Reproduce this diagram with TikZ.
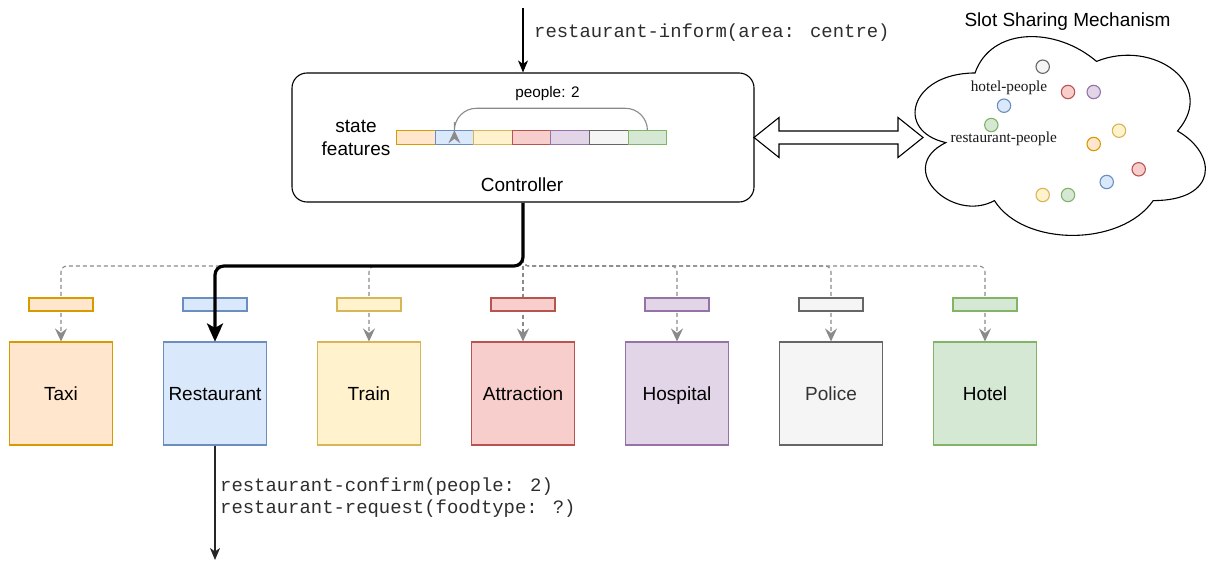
\documentclass[tikz,border=0pt]{standalone}
\usepackage{fontspec}
\setmainfont{Liberation Sans}
\newfontfamily\monof{Liberation Mono}
\newfontfamily\seriff{Liberation Serif}
\usetikzlibrary{arrows.meta}
\definecolor{orF}{HTML}{FFE6CC}\definecolor{orS}{HTML}{D79B00}
\definecolor{blF}{HTML}{DAE8FC}\definecolor{blS}{HTML}{6C8EBF}
\definecolor{yeF}{HTML}{FFF2CC}\definecolor{yeS}{HTML}{D6B656}
\definecolor{reF}{HTML}{F8CECC}\definecolor{reS}{HTML}{B85450}
\definecolor{puF}{HTML}{E1D5E7}\definecolor{puS}{HTML}{9673A6}
\definecolor{grF}{HTML}{F5F5F5}\definecolor{grS}{HTML}{666666}
\definecolor{gnF}{HTML}{D5E8D4}\definecolor{gnS}{HTML}{82B366}
\definecolor{dashgray}{HTML}{8A8A8A}
\definecolor{txtgray}{HTML}{333333}
\tikzset{
  big/.style={font=\fontsize{19}{22.6}\selectfont},
  dombox/.style={draw, rectangle, minimum width=103pt, minimum height=103pt, inner sep=0pt, line width=1.1pt, big, text height=13.7pt, text depth=0pt},
  sbar/.style={draw, rectangle, minimum width=64pt, minimum height=13pt, inner sep=0pt, line width=1.1pt},
  cell/.style={draw, rectangle, minimum width=38.6pt, minimum height=13.3pt, inner sep=0pt, line width=1.1pt},
  dot/.style={draw, circle, minimum size=13.4pt, inner sep=0pt, line width=1.1pt},
  graytip/.style={-{Stealth[length=13pt,width=12pt,inset=4.5pt,fill=dashgray]}},
  dashedge/.style={draw=dashgray, line width=1.1pt, dash pattern=on 4pt off 3pt, rounded corners=6pt, graytip},
  thinarrow/.style={draw=black, line width=1.1pt, -{Stealth[length=12pt,width=10pt,inset=3.5pt]}},
  monotext/.style={font=\monof\fontsize{18.9}{22}\selectfont, inner sep=0pt, text=black!82},
  cloudtext/.style={font=\seriff\fontsize{15.3}{18}\selectfont, inner sep=0pt, text=black!90, anchor=base},
}
\begin{document}
\begin{tikzpicture}[x=1pt,y=-1pt]
\useasboundingbox (0,0) rectangle (1207,561);

% Controller
\node[draw, line width=1.1pt, rounded corners=15pt, minimum width=462pt, minimum height=129pt, inner sep=0pt] (ctrl) at (523,137.5) {};
\node[big, align=center, inner sep=0pt] (sf) at (356,138) {state\\features};
\node[big, inner sep=0pt] (ctrllabel) at (522,185) {Controller};

% state feature cells
\node[cell, fill=orF, draw=orS] (c1) at (415.8,137.5) {};
\node[cell, fill=blF, draw=blS] (c2) at (454.4,137.5) {};
\node[cell, fill=yeF, draw=yeS] (c3) at (493.0,137.5) {};
\node[cell, fill=reF, draw=reS] (c4) at (531.6,137.5) {};
\node[cell, fill=puF, draw=puS] (c5) at (570.2,137.5) {};
\node[cell, fill=grF, draw=grS] (c6) at (608.8,137.5) {};
\node[cell, fill=gnF, draw=gnS] (c7) at (647.4,137.5) {};
\draw[draw=dashgray, line width=1.1pt, rounded corners=22pt, graytip]
  (c7.north) -- ++(0,-22) -| (c2.north);
\node[font=\fontsize{15.3}{18}\selectfont, inner sep=0pt] (pl) at (547.5,93.5) {people: 2};

% top input arrow
\coordinate (topin) at (523,8);
\draw[thinarrow] (topin) -- (ctrl.north);
\node[monotext, anchor=west] (inform) at (534,33) {restaurant-inform(area: centre)};

% domain boxes
\node[dombox, fill=orF, draw=orS] (taxi) at (61,393.5) {Taxi};
\node[dombox, fill=blF, draw=blS] (rest) at (215,393.5) {Restaurant};
\node[dombox, fill=yeF, draw=yeS] (train) at (369,393.5) {Train};
\node[dombox, fill=reF, draw=reS] (attr) at (523,393.5) {Attraction};
\node[dombox, fill=puF, draw=puS] (hosp) at (677,393.5) {Hospital};
\node[dombox, fill=grF, draw=grS, text=txtgray] (police) at (831,393.5) {Police};
\node[dombox, fill=gnF, draw=gnS] (hotel) at (985,393.5) {Hotel};

% dashed edges
\foreach \b/\x in {taxi/61, rest/215, train/369, hosp/677, police/831, hotel/985}{
  \draw[dashedge] (ctrl.south) -- (523,266) -- (\x,266) -- (\b.north);
}
\draw[dashedge] (ctrl.south) -- (attr.north);

% bars
\node[sbar, fill=orF, draw=orS] (b1) at (61,304.5) {};
\node[sbar, fill=blF, draw=blS] (b2) at (215,304.5) {};
\node[sbar, fill=yeF, draw=yeS] (b3) at (369,304.5) {};
\node[sbar, fill=reF, draw=reS] (b4) at (523,304.5) {};
\node[sbar, fill=puF, draw=puS] (b5) at (677,304.5) {};
\node[sbar, fill=grF, draw=grS] (b6) at (831,304.5) {};
\node[sbar, fill=gnF, draw=gnS] (b7) at (985,304.5) {};

% thick selected route
\draw[line width=3.2pt, rounded corners=9pt, -{Stealth[length=18pt,width=16pt,inset=4.5pt]}]
  (ctrl.south) -- (523,266) -- (215,266) -- (rest.north);

% output
\coordinate (botout) at (215,560);
\draw[thinarrow, draw=black!85] (rest.south) -- (botout);
\node[monotext, anchor=west] (o1) at (220,486.7) {restaurant-confirm(people: 2)};
\node[monotext, anchor=west] (o2) at (220,509) {restaurant-request(foodtype: ?)};

% double arrow
\draw[line width=1.1pt, fill=white, line join=miter]
  (754,137.5) -- (779,117.5) -- (779,131) -- (898,131) -- (898,117.5) -- (923,137.5)
  -- (898,157.5) -- (898,144) -- (779,144) -- (779,157.5) -- cycle;

% cloud
\draw[line width=1.1pt, fill=white]
  (975,73) .. controls (910.2,73) and (894,131) .. (945.8,142.6)
  .. controls (894,168.1) and (952.3,223.8) .. (994.4,200.6)
  .. controls (1023.6,247) and (1120.8,247) .. (1153.2,200.6)
  .. controls (1218,200.6) and (1218,154.2) .. (1177.5,131)
  .. controls (1218,84.6) and (1153.2,38.2) .. (1096.5,61.4)
  .. controls (1056,26.6) and (991.2,26.6) .. (975,73) -- cycle;
\node[big, inner sep=0pt] (title) at (1067.5,22) {Slot Sharing Mechanism};

\node[dot, fill=grF, draw=grS] (d1) at (1042.7,66.7) {};
\node[dot, fill=reF, draw=reS] (d2) at (1068,92) {};
\node[dot, fill=puF, draw=puS] (d3) at (1093.7,92) {};
\node[dot, fill=blF, draw=blS] (d4) at (1004,105.7) {};
\node[dot, fill=gnF, draw=gnS] (d5) at (991.3,125) {};
\node[dot, fill=yeF, draw=yeS] (d6) at (1119,130.7) {};
\node[dot, fill=orF, draw=orS] (d7) at (1093.7,144) {};
\node[dot, fill=reF, draw=reS] (d8) at (1138.7,169.3) {};
\node[dot, fill=blF, draw=blS] (d9) at (1106.7,182) {};
\node[dot, fill=yeF, draw=yeS] (d10) at (1042.7,195) {};
\node[dot, fill=gnF, draw=gnS] (d11) at (1068,195) {};
\node[cloudtext] (hp) at (1009,92) {hotel-people};
\node[cloudtext] (rp) at (1003.7,143) {restaurant-people};
\end{tikzpicture}
\end{document}
